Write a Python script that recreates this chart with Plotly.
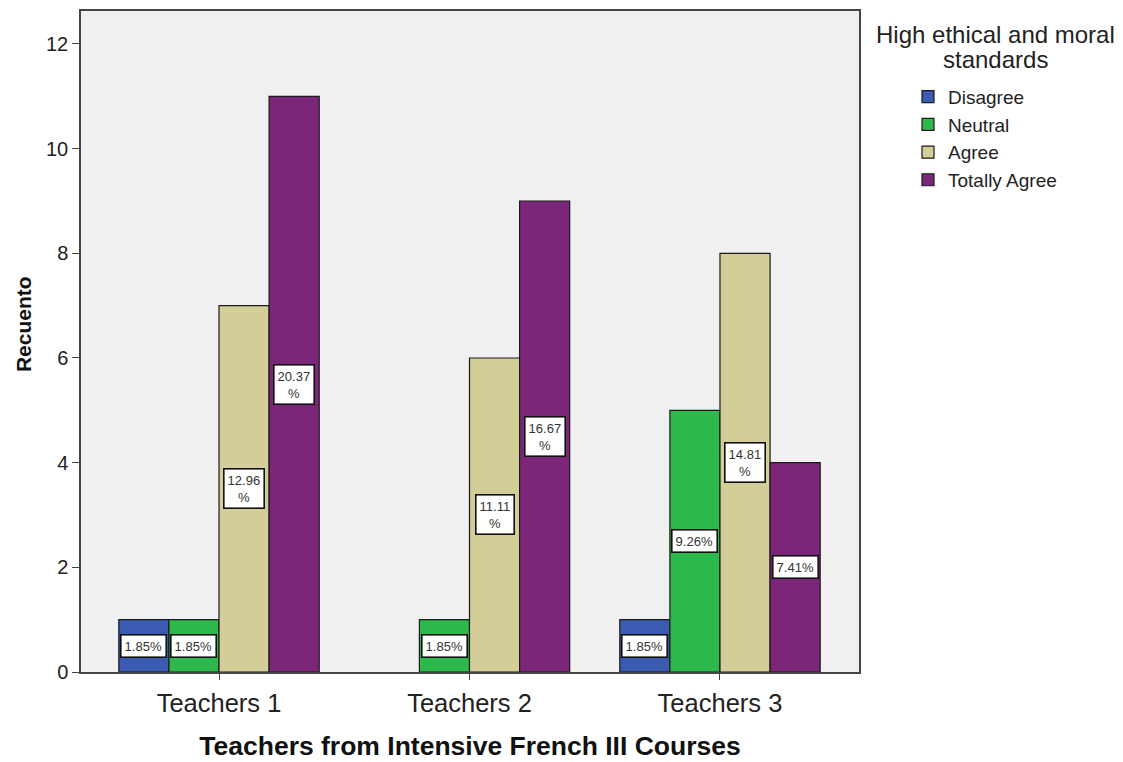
import plotly.graph_objects as go

categories = ["Teachers 1", "Teachers 2", "Teachers 3"]
series_names = ["Disagree", "Neutral", "Agree", "Totally Agree"]
disagree = [1, 0, 1]
neutral = [1, 1, 5]
agree = [7, 6, 8]
totally_agree = [11, 9, 4]
disagree_labels = ["1.85%", "", "1.85%"]
neutral_labels = ["1.85%", "1.85%", "9.26%"]
agree_labels = ["12.96<br>%", "11.11<br>%", "14.81<br>%"]
totally_labels = ["20.37<br>%", "16.67<br>%", "7.41%"]
y_ticks = [0, 2, 4, 6, 8, 10, 12]
legend_title_lines = ["High ethical and moral", "standards"]
x_title = "Teachers from Intensive French III Courses"
y_title = "Recuento"

colors = ["#3b5bb3", "#2db84b", "#d3ce97", "#7b2679"]
all_values = [disagree, neutral, agree, totally_agree]
all_labels = [disagree_labels, neutral_labels, agree_labels, totally_labels]

FONT = "Liberation Sans, Arial, sans-serif"

# page body has an 8px margin; figure sized so it fits the window
W, H = 1115, 754
OFF = 8
L, T = 81 - OFF, 9 - OFF
R = OFF + W - 859
B = OFF + H - 672
PW = W - L - R
PH = H - T - B


def px_x(px):
    return (px - OFF - L) / PW


def px_y(py):
    return (OFF + T + PH - py) / PH


fig = go.Figure()
for name, vals, col in zip(series_names, all_values, colors):
    fig.add_trace(go.Bar(
        x=categories, y=[v if v > 0 else None for v in vals], name=name,
        marker=dict(color=col, line=dict(color="#1a1a1a", width=1.2)),
    ))

n = len(series_names)
bargap = 0.2
bw = (1 - bargap) / n
for j, (vals, labs) in enumerate(zip(all_values, all_labels)):
    for i, (v, lab) in enumerate(zip(vals, labs)):
        if v <= 0 or not lab:
            continue
        fig.add_annotation(
            x=i + (j - (n - 1) / 2) * bw, y=v / 2, xref="x", yref="y",
            text=lab, showarrow=False,
            font=dict(family=FONT, size=13, color="#333333"),
            bgcolor="white", bordercolor="#111111", borderwidth=1.6, borderpad=3,
        )

for line, cy in zip(legend_title_lines, [33, 58]):
    fig.add_annotation(
        x=px_x(995), y=px_y(cy), xref="paper", yref="paper",
        xanchor="center", yanchor="middle",
        text=line, showarrow=False,
        font=dict(family=FONT, size=24, color="#222222"),
    )

fig.add_annotation(
    x=px_x(23), y=px_y(323), xref="paper", yref="paper",
    xanchor="center", yanchor="middle", textangle=-90,
    text=f"<b>{y_title}</b>", showarrow=False,
    font=dict(family=FONT, size=21, color="#111111"),
)

fig.update_layout(
    width=W, height=H,
    margin=dict(l=L, r=R, t=T, b=B),
    paper_bgcolor="white", plot_bgcolor="#f0f0f0",
    barmode="group", bargap=bargap, bargroupgap=0,
    font=dict(family=FONT, color="#222222"),
    showlegend=True,
    legend=dict(
        x=px_x(908), y=px_y(76), xanchor="left", yanchor="top",
        font=dict(family=FONT, size=19, color="#222222"),
        bgcolor="rgba(0,0,0,0)", tracegroupgap=0,
    ),
    xaxis=dict(
        range=[-0.551, 2.555], showline=True, linecolor="#444444", linewidth=1.5,
        mirror=True, ticks="outside", ticklen=6, tickcolor="#444444",
        ticklabelstandoff=2,
        tickfont=dict(family=FONT, size=25.5, color="#222222"),
        title=dict(text=f"<b>{x_title}</b>",
                   font=dict(family=FONT, size=26.5, color="#111111"), standoff=20),
        showgrid=False, zeroline=False,
    ),
    yaxis=dict(
        range=[0, 12.63], tickvals=y_ticks, showline=True, linecolor="#444444",
        linewidth=1.5, mirror=True, ticks="outside", ticklen=7, tickcolor="#444444",
        tickfont=dict(family=FONT, size=20, color="#222222"),
        showgrid=False, zeroline=False,
    ),
)

fig.write_html("out.html")
